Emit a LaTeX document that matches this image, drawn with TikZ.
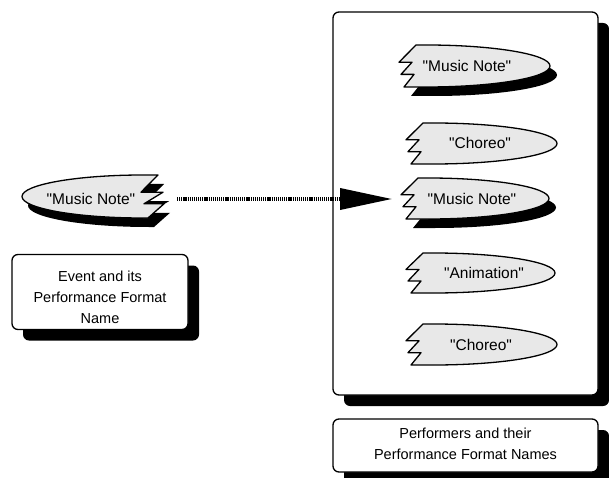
\documentclass[tikz,border=0pt]{standalone}
\usepackage{fontspec}
\setmainfont{Liberation Sans}[Ligatures=TeXOff]
\usetikzlibrary{arrows.meta,shadows}
\tikzset{
  outl/.style={draw=black, line width=1.3pt, line join=round},
  tagfill/.style={outl, fill=black!9},
  shadowfill/.style={fill=black},
  box/.style={outl, fill=white, rounded corners=6pt, inner sep=0pt,
     drop shadow={shadow xshift=11pt, shadow yshift=-11pt, fill=black, opacity=1}},
  lbl/.style={font=\fontsize{14.5}{21}\selectfont, align=center, inner sep=0pt},
  tagtext/.style={font=\fontsize{15.5}{17}\selectfont, inner sep=0pt},
  flow/.style={line width=3.6pt, dash pattern=on 1.2pt off 0.9pt,
     -{Triangle[length=52pt 0 0, width=21pt 0 0]}}
}
% right-facing tag: zigzag on the left, rounded tip on the right
\newcommand\rtagshape[3]{%
  \path[#3] (0,0) -- (10,0)
    .. controls ({10+0.552*(#1-10)},0) and (#1,{#2/2-0.276*#2}) .. (#1,{#2/2})
    .. controls (#1,{#2/2+0.276*#2}) and ({10+0.552*(#1-10)},#2) .. (10,#2)
    -- (-12,#2) -- (-2,{0.7*#2}) -- (-15,{0.7*#2}) -- (-4,{0.41*#2}) -- (-17,{0.41*#2}) -- cycle;}
% left-facing tag: rounded tip on the left, zigzag on the right
\newcommand\ltagshape[3]{%
  \path[#3] (0,0) -- (-17,{0.4*#2}) -- (5,{0.4*#2}) -- (-14,{0.67*#2}) -- (6,{0.67*#2}) -- (-10,#2) -- (-15,#2)
    .. controls ({-15+0.552*(#1+15)},#2) and (#1,{#2/2+0.276*#2}) .. (#1,{#2/2})
    .. controls (#1,{#2/2-0.276*#2}) and ({-15+0.552*(#1+15)},0) .. (-15,0) -- cycle;}
\begin{document}
\begin{tikzpicture}[x=1pt, y=-1pt]
\useasboundingbox (0,0) rectangle (609,478);

% panel and captions
\node[box, minimum width=265pt, minimum height=383pt] (panel) at (465.5,203.5) {};
\node[box, minimum width=265pt, minimum height=53pt] (cap) at (465.5,445.5) {};
\node[lbl] (captext) at (465.5,444) {Performers and their\\Performance Format Names};
\node[box, minimum width=176pt, minimum height=75pt] (evbox) at (100,292) {};
\node[lbl] (evtext) at (100,297) {Event and its\\Performance Format\\Name};

% left tag (event)
\begin{scope}[shift={(158,175)}]
  \ltagshape{-136}{43}{shadowfill, shift={(6,9)}}
  \ltagshape{-136}{43}{tagfill}
\end{scope}
\node[tagtext] (ev) at (91,199) {"Music Note"};

% right tags (performers)
\begin{scope}[shift={(416,45)}]
  \rtagshape{134}{42}{shadowfill, shift={(7,9)}}
  \rtagshape{134}{42}{tagfill}
\end{scope}
\node[tagtext] (p1) at (467,66) {"Music Note"};

\begin{scope}[shift={(423,123)}]
  \rtagshape{134}{41}{tagfill}
\end{scope}
\node[tagtext] (p2) at (480,143) {"Choreo"};

\begin{scope}[shift={(418,178)}]
  \rtagshape{131}{41}{shadowfill, shift={(7,9)}}
  \rtagshape{131}{41}{tagfill}
\end{scope}
\node[tagtext] (p3) at (472,199) {"Music Note"};

\begin{scope}[shift={(423,253)}]
  \rtagshape{132}{40}{tagfill}
\end{scope}
\node[tagtext] (p4) at (484,273) {"Animation"};

\begin{scope}[shift={(423,324)}]
  \rtagshape{134}{41}{tagfill}
\end{scope}
\node[tagtext] (p5) at (481,345) {"Choreo"};

% connector
\coordinate (evR) at (177,199);
\coordinate (p3L) at (392,199);
\draw[flow] (evR) -- (p3L);
\end{tikzpicture}
\end{document}
